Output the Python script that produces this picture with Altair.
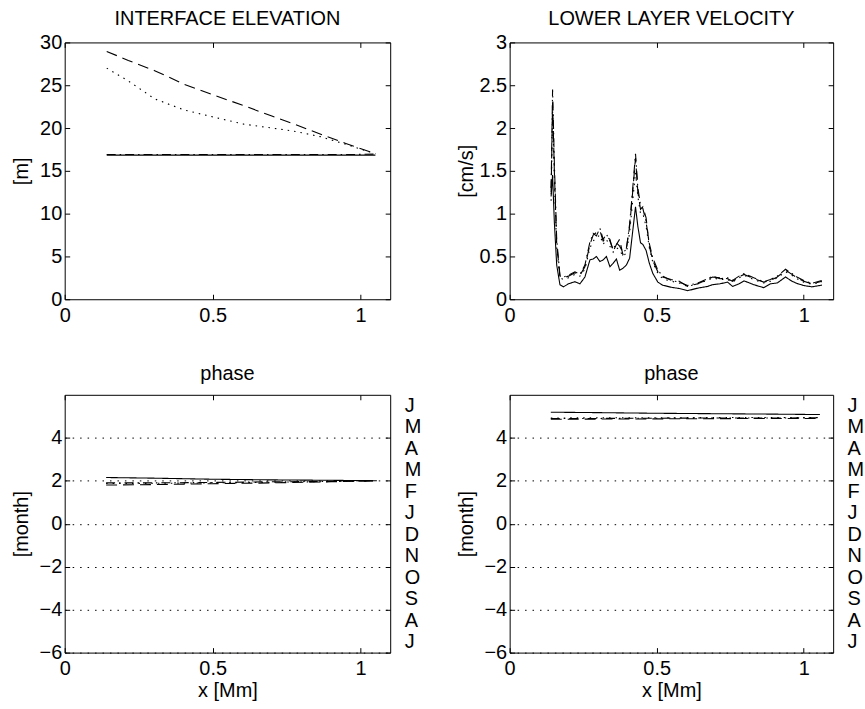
import altair as alt
import pandas as pd

FONT = "Liberation Sans"

SERIES = ["solid", "dashed", "dotted", "dashdot"]
DASHES = [[1, 0], [11, 6], [1.5, 5], [9, 4, 1.5, 4]]

X_TICKS = [0, 0.5, 1]
ELEV_TICKS = [0, 5, 10, 15, 20, 25, 30]
VEL_TICKS = [0, 0.5, 1, 1.5, 2, 2.5, 3]
PHASE_TICKS = [-6, -4, -2, 0, 2, 4]
MONTHS = ["J", "M", "A", "M", "F", "J", "D", "N", "O", "S", "A", "J"]
MONTH_POS = [5.5, 4.5, 3.5, 2.5, 1.5, 0.5, -0.5, -1.5, -2.5, -3.5, -4.5, -5.5]

# ---- interface elevation [m]
ELEV_X = [0.142, 0.215, 0.304, 0.405, 0.5, 0.606, 0.7, 0.773, 0.863, 0.95, 1.05]
ELEV_SOLID = [16.84, 16.84, 16.84, 16.84, 16.84, 16.84, 16.84, 16.84, 16.84, 16.84, 16.84]
ELEV_DASHED = [28.95, 27.9, 26.7, 25.1, 23.9, 22.6, 21.4, 20.5, 19.3, 18.2, 17.0]
ELEV_DOTTED = [27.0, 25.5, 23.4, 22.1, 21.3, 20.45, 20.0, 19.65, 19.0, 18.1, 17.0]
ELEV_DASHDOT = [16.9, 16.9, 16.9, 16.9, 16.9, 16.9, 16.9, 16.9, 16.9, 16.9, 16.95]

# ---- lower layer velocity [cm/s]
VEL_X = [0.141, 0.146, 0.152, 0.16, 0.171, 0.183, 0.2, 0.222, 0.239, 0.256, 0.273, 0.284,
         0.295, 0.307, 0.318, 0.329, 0.341, 0.352, 0.363, 0.374, 0.385, 0.397, 0.408, 0.417,
         0.428, 0.436, 0.445, 0.453, 0.464, 0.475, 0.487, 0.504, 0.52, 0.549, 0.577, 0.605,
         0.64, 0.673, 0.69, 0.715, 0.741, 0.758, 0.78, 0.797, 0.83, 0.864, 0.887, 0.91,
         0.938, 0.96, 0.977, 1.0, 1.028, 1.062]
VEL_SOLID = [1.2, 1.45, 0.9, 0.4, 0.17, 0.145, 0.18, 0.205, 0.18, 0.26, 0.46, 0.47,
             0.5, 0.44, 0.46, 0.5, 0.38, 0.42, 0.47, 0.34, 0.36, 0.4, 0.48, 0.75,
             1.08, 0.85, 0.66, 0.64, 0.57, 0.42, 0.3, 0.2, 0.165, 0.14, 0.125, 0.1,
             0.13, 0.15, 0.17, 0.18, 0.2, 0.15, 0.18, 0.215, 0.17, 0.135, 0.18, 0.19,
             0.26, 0.21, 0.185, 0.16, 0.145, 0.165]
VEL_DASHDOT = [1.3, 2.45, 1.6, 0.7, 0.28, 0.26, 0.28, 0.32, 0.29, 0.4, 0.67, 0.77,
               0.74, 0.83, 0.7, 0.76, 0.68, 0.58, 0.66, 0.62, 0.55, 0.58, 0.88, 1.23,
               1.7, 1.3, 1.1, 1.06, 0.9, 0.65, 0.48, 0.34, 0.27, 0.22, 0.2, 0.16,
               0.19, 0.24, 0.27, 0.24, 0.25, 0.22, 0.27, 0.3, 0.25, 0.205, 0.23, 0.27,
               0.35, 0.3, 0.26, 0.22, 0.185, 0.22]
VEL_DASHED = [1.25, 2.3, 1.5, 0.65, 0.27, 0.25, 0.27, 0.31, 0.28, 0.38, 0.64, 0.75,
              0.78, 0.8, 0.68, 0.73, 0.7, 0.56, 0.64, 0.7, 0.52, 0.6, 0.85, 1.2,
              1.65, 1.25, 1.05, 1.08, 0.95, 0.62, 0.45, 0.32, 0.26, 0.23, 0.21, 0.15,
              0.18, 0.23, 0.26, 0.25, 0.24, 0.21, 0.26, 0.29, 0.24, 0.2, 0.22, 0.26,
              0.34, 0.29, 0.25, 0.21, 0.18, 0.21]
VEL_DOTTED = [1.15, 2.2, 1.4, 0.6, 0.25, 0.23, 0.25, 0.29, 0.27, 0.35, 0.6, 0.68,
              0.72, 0.75, 0.64, 0.7, 0.62, 0.55, 0.6, 0.58, 0.5, 0.54, 0.78, 1.1,
              1.48, 1.2, 1.0, 1.0, 0.85, 0.6, 0.43, 0.3, 0.24, 0.21, 0.19, 0.15,
              0.18, 0.22, 0.25, 0.23, 0.23, 0.2, 0.25, 0.28, 0.23, 0.19, 0.21, 0.25,
              0.32, 0.28, 0.24, 0.2, 0.175, 0.2]

# ---- phases [month]
PH_X = [0.14, 0.3, 0.5, 0.7, 0.9, 1.055]
PH1_SOLID = [2.15, 2.12, 2.07, 2.04, 2.02, 2.0]
PH1_DASHED = [1.8, 1.82, 1.86, 1.9, 1.95, 2.0]
PH1_DOTTED = [1.87, 1.88, 1.9, 1.93, 1.96, 2.0]
PH1_DASHDOT = [1.9, 1.9, 1.92, 1.95, 1.97, 2.0]
PH2_SOLID = [5.19, 5.17, 5.14, 5.12, 5.1, 5.08]
PH2_DASHED = [4.86, 4.87, 4.88, 4.89, 4.9, 4.9]
PH2_DOTTED = [4.92, 4.93, 4.93, 4.94, 4.94, 4.94]
PH2_DASHDOT = [4.9, 4.9, 4.91, 4.92, 4.92, 4.93]


def long_df(xs, cols):
    rows = []
    for s, ys in zip(SERIES, cols):
        for x, y in zip(xs, ys):
            rows.append({"x": x, "y": y, "s": s})
    return pd.DataFrame(rows)


def panel(df, ydom, yvals, ytitle, title, W, H, xtitle=None, grid=False, months=False,
          title_offset=4):
    xsc = alt.Scale(domain=[0, 1.1], nice=False, zero=False)
    ysc = alt.Scale(domain=ydom, nice=False, zero=False)
    base = alt.Chart(df)
    xax = dict(orient="bottom", values=X_TICKS, format="~g", ticks=False, domain=False,
               grid=False, labelPadding=6, titlePadding=2)
    xax["title"] = xtitle
    main = base.mark_line(color="black", strokeWidth=1.1).encode(
        x=alt.X("x:Q", scale=xsc, axis=alt.Axis(**xax)),
        y=alt.Y("y:Q", scale=ysc, axis=alt.Axis(
            orient="left", values=yvals, format="~g", ticks=False, domain=False,
            grid=grid, title=ytitle, minExtent=26, maxExtent=26, titlePadding=7,
            labelPadding=3)),
        strokeDash=alt.StrokeDash("s:N", scale=alt.Scale(domain=SERIES, range=DASHES),
                                  legend=None),
    )
    t1 = base.mark_line(opacity=0).encode(
        x=alt.X("x:Q", scale=xsc, axis=alt.Axis(
            orient="top", offset=-H, values=X_TICKS, labels=False, domain=False,
            grid=False, ticks=True, tickSize=5, title=None)),
        y=alt.Y("y:Q", scale=ysc, axis=alt.Axis(
            orient="right", offset=-W, values=yvals, labels=False, domain=False,
            grid=False, ticks=True, tickSize=5, title=None)),
    )
    t2 = base.mark_line(opacity=0).encode(
        x=alt.X("x:Q", scale=xsc, axis=alt.Axis(
            orient="bottom", offset=-H, values=X_TICKS, labels=False, domain=False,
            grid=False, ticks=True, tickSize=5, title=None)),
        y=alt.Y("y:Q", scale=ysc, axis=alt.Axis(
            orient="left", offset=-W, values=yvals, labels=False, domain=False,
            grid=False, ticks=True, tickSize=5, title=None)),
    )
    layers = [main, t1, t2]
    if months:
        expr = "[" + ",".join("'%s'" % m for m in MONTHS) + "][round(5.5 - datum.value)]"
        mlayer = base.mark_line(opacity=0).encode(
            x=alt.X("x:Q", scale=xsc, axis=None),
            y=alt.Y("y:Q", scale=ysc, axis=alt.Axis(
                orient="right", values=MONTH_POS, labelExpr=expr, ticks=False,
                domain=False, grid=False, title=None, labelPadding=14,
                labelAlign="left", labelFontSize=20)),
        )
        layers.append(mlayer)
    return alt.layer(*layers).resolve_axis(x="independent", y="independent").properties(
        width=W, height=H,
        title=alt.TitleParams(title, anchor="middle", offset=title_offset),
    )


tl = panel(long_df(ELEV_X, [ELEV_SOLID, ELEV_DASHED, ELEV_DOTTED, ELEV_DASHDOT]),
           [0, 30], ELEV_TICKS, "[m]", "INTERFACE ELEVATION", 327, 258)
tr = panel(long_df(VEL_X, [VEL_SOLID, VEL_DASHED, VEL_DOTTED, VEL_DASHDOT]),
           [0, 3], VEL_TICKS, "[cm/s]", "LOWER LAYER VELOCITY", 325, 258)
bl = panel(long_df(PH_X, [PH1_SOLID, PH1_DASHED, PH1_DOTTED, PH1_DASHDOT]),
           [-6, 6], PHASE_TICKS, "[month]", "phase", 327, 259, xtitle="x [Mm]",
           grid=True, months=True, title_offset=10)
br = panel(long_df(PH_X, [PH2_SOLID, PH2_DASHED, PH2_DOTTED, PH2_DASHDOT]),
           [-6, 6], PHASE_TICKS, "[month]", "phase", 325, 259, xtitle="x [Mm]",
           grid=True, months=True, title_offset=10)

chart = alt.concat(tl, tr, bl, br, columns=2, align="each",
                   spacing={"row": 38, "column": 34}).properties(
    padding={"left": 11, "top": 6, "right": 0, "bottom": 0},
    background="white",
).configure_axis(
    labelFont=FONT, labelFontSize=20, labelColor="black",
    titleFont=FONT, titleFontSize=20, titleFontWeight="normal", titleColor="black",
    tickColor="black", tickWidth=1,
    gridColor="black", gridDash=[1.5, 6], gridOpacity=1, gridWidth=1,
    labelFlush=False, labelOverlap=False,
).configure_title(
    font=FONT, fontSize=20, fontWeight="normal", color="black",
).configure_view(
    stroke="black", strokeWidth=1,
)

chart.save("out.html", embed_options={"renderer": "svg", "actions": False})
